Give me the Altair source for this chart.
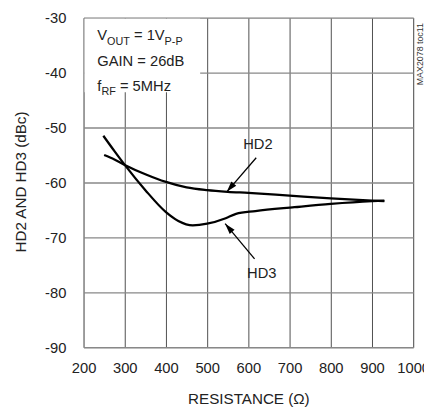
import altair as alt
import pandas as pd

# Curve data
hd2_x = [250, 275, 300, 350, 400, 450, 500, 550, 600, 700, 800, 900, 930]
hd2_y = [-55.0, -55.8, -56.8, -58.5, -59.9, -60.9, -61.4, -61.7, -61.9, -62.4, -62.9, -63.3, -63.4]
hd3_x = [248, 275, 300, 350, 400, 430, 465, 500, 545, 570, 617, 712, 800, 900, 930]
hd3_y = [-51.5, -54.3, -56.8, -61.4, -65.4, -67.0, -67.8, -67.5, -66.5, -65.7, -65.2, -64.5, -63.9, -63.4, -63.3]

x_ticks = [200, 300, 400, 500, 600, 700, 800, 900, 1000]
y_ticks = [-90, -80, -70, -60, -50, -40, -30]

FONT = "Liberation Sans"

rows = [{"r": a, "v": b, "s": "HD2"} for a, b in zip(hd2_x, hd2_y)] + \
       [{"r": a, "v": b, "s": "HD3"} for a, b in zip(hd3_x, hd3_y)]
df = pd.DataFrame(rows)

xs = alt.Scale(domain=[200, 1000], nice=False, zero=False)
ys = alt.Scale(domain=[-90, -30], nice=False, zero=False)

xenc = alt.X("r:Q", scale=xs, title="RESISTANCE (Ω)",
             axis=alt.Axis(values=x_ticks, grid=True, gridColor="#3a3a3a", gridWidth=0.9,
                           domain=False, ticks=False, labelFont=FONT, labelFontSize=15,
                           labelExpr="'' + datum.value",
                           labelColor="#222", labelPadding=14, labelFlush=False,
                           titleFont=FONT, titleFontSize=15.5, titleFontWeight="normal",
                           titleColor="#222", titleX=168, titleY=57, titleBaseline="alphabetic"))
yenc = alt.Y("v:Q", scale=ys, title="HD2 AND HD3 (dBc)",
             axis=alt.Axis(values=y_ticks, grid=True, gridColor="#888888", gridWidth=1.4,
                           domain=False, ticks=False, labelFont=FONT, labelFontSize=15,
                           labelExpr="'' + datum.value",
                           labelColor="#222", labelPadding=18, labelFlush=False,
                           titleFont=FONT, titleFontSize=15.5, titleFontWeight="normal",
                           titleColor="#222", titleX=-64, titleY=167, titleBaseline="middle",
                           titleAngle=270))

lines = alt.Chart(df).mark_line(color="black", strokeWidth=2.3, interpolate="monotone").encode(
    x=xenc, y=yenc, detail="s:N")

# white annotation box
box_df = pd.DataFrame([{"r": 202.5, "r2": 483, "v": -30.2, "v2": -43.6}])
box = alt.Chart(box_df).mark_rect(fill="white", stroke=None).encode(
    x="r:Q", x2="r2:Q", y="v:Q", y2="v2:Q")

# annotation text pieces (main 15px, subscripts 11px)
ann = pd.DataFrame([
    {"r": 233.3, "v": -34.11, "t": "V", "fs": 15},
    {"r": 257.1, "v": -34.9, "t": "OUT", "fs": 11},
    {"r": 322.4, "v": -34.11, "t": "= 1V", "fs": 15},
    {"r": 396.7, "v": -34.9, "t": "P-P", "fs": 11},
    {"r": 233.3, "v": -38.75, "t": "GAIN = 26dB", "fs": 15},
    {"r": 233.3, "v": -43.3, "t": "f", "fs": 15},
    {"r": 243.3, "v": -44.1, "t": "RF", "fs": 11},
    {"r": 288.3, "v": -43.3, "t": "= 5MHz", "fs": 15},
])
ann_text = alt.Chart(ann).mark_text(align="left", baseline="alphabetic", font=FONT, color="#222").encode(
    x="r:Q", y="v:Q", text="t:N", size=alt.Size("fs:Q", scale=None, legend=None))

# curve labels
lab = pd.DataFrame([
    {"r": 623, "v": -53.1, "t": "HD2"},
    {"r": 632.6, "v": -76.5, "t": "HD3"},
])
lab_text = alt.Chart(lab).mark_text(align="center", baseline="middle", font=FONT, fontSize=15,
                                    color="#222").encode(x="r:Q", y="v:Q", text="t:N")

# arrows
arr = pd.DataFrame([
    {"r": 619, "v": -55.5, "r2": 547.6, "v2": -61.7, "ang": 220.6},
    {"r": 615, "v": -73.9, "r2": 543.6, "v2": -67.5, "ang": 319.4},
])
arr_line = alt.Chart(arr).mark_rule(color="black", strokeWidth=1.3).encode(
    x="r:Q", y="v:Q", x2="r2:Q", y2="v2:Q")
arr_head = alt.Chart(arr).mark_point(shape="M0,0L-0.6,2L0.6,2Z", filled=True, color="black",
                                     opacity=1, size=120).encode(
    x="r2:Q", y="v2:Q", angle=alt.Angle("ang:Q", scale=None))

# side code
code = pd.DataFrame([{"r": 1016.7, "v": -42.3, "t": "MAX2078 toc11"}])
code_text = alt.Chart(code).mark_text(align="left", baseline="middle", angle=270, font=FONT,
                                      fontSize=9, color="#333").encode(x="r:Q", y="v:Q", text="t:N")

chart = alt.layer(box, lines, ann_text, lab_text, arr_line, arr_head, code_text).properties(
    width=336, height=336,
    autosize=alt.AutoSizeParams(type="none"),
    padding={"left": 77, "top": 6, "right": 11, "bottom": 57},
).configure_view(stroke="black", strokeWidth=3).configure(background="white")

chart.save("out.html", embed_options={"renderer": "svg", "actions": False})
